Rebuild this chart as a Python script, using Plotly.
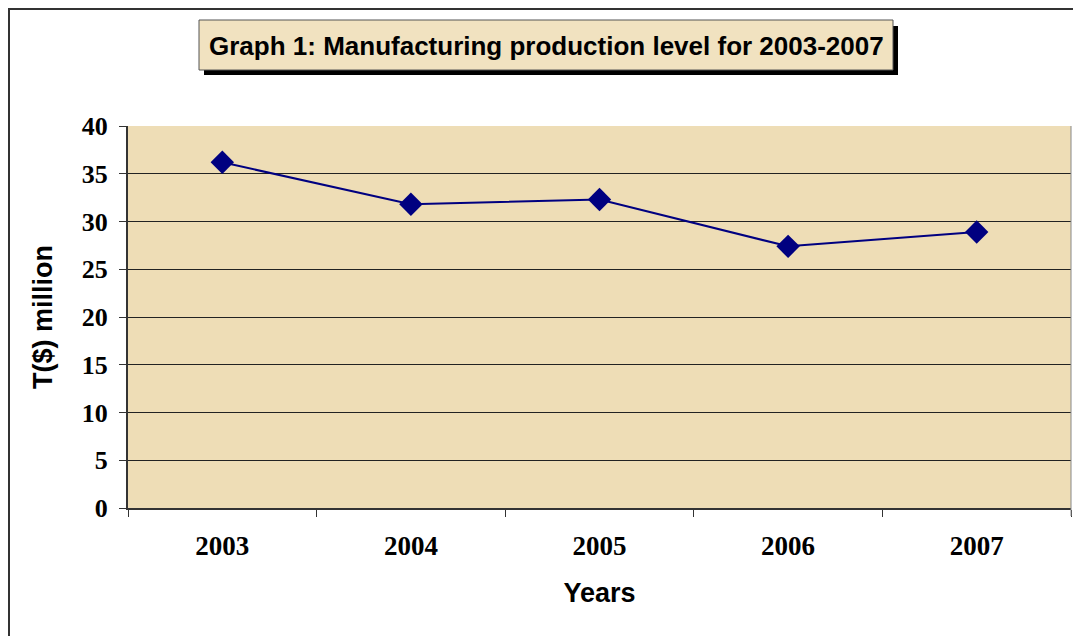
import plotly.graph_objects as go

years = ['2003', '2004', '2005', '2006', '2007']
production = [36.2, 31.8, 32.3, 27.4, 28.9]
y_ticks = [0, 5, 10, 15, 20, 25, 30, 35, 40]

# page has an 8px body margin, so figure coords = screen coords - 8
W, H = 1073, 628
L, R, T, B = 120, 10, 118, 128
pw, ph = W - L - R, H - T - B

def px_x(x):
    return (x - 8 - L) / pw

def px_y(y):
    return (H - B - (y - 8)) / ph

fig = go.Figure()
fig.add_trace(go.Scatter(x=years, y=production, mode='lines+markers',
                         line=dict(color='#000080', width=2),
                         marker=dict(symbol='diamond', size=18, color='#000080'),
                         showlegend=False))

shapes = [
    # outer frame
    dict(type='line', xref='paper', yref='paper', x0=px_x(9), x1=px_x(9), y0=px_y(9), y1=px_y(640),
         line=dict(color='#333333', width=2)),
    dict(type='line', xref='paper', yref='paper', x0=px_x(8), x1=px_x(1085), y0=px_y(9), y1=px_y(9),
         line=dict(color='#333333', width=2)),
    # right edge of plot area
    dict(type='line', xref='paper', yref='paper', x0=1, x1=1, y0=px_y(516), y1=1,
         line=dict(color='#888888', width=1)),
    # title shadow and box
    dict(type='rect', xref='paper', yref='paper', x0=px_x(204), x1=px_x(898), y0=px_y(26), y1=px_y(75),
         fillcolor='black', line=dict(width=0)),
    dict(type='rect', xref='paper', yref='paper', x0=px_x(199), x1=px_x(893), y0=px_y(20), y1=px_y(70),
         fillcolor='#F1E2C0', line=dict(color='#555555', width=1)),
]

fig.update_layout(
    width=W, height=H,
    margin=dict(l=L, r=R, t=T, b=B),
    paper_bgcolor='white',
    plot_bgcolor='#EEDDB6',
    shapes=shapes,
    annotations=[dict(text='Graph 1: Manufacturing production level for 2003-2007',
                      xref='paper', yref='paper', x=px_x(546), y=px_y(46),
                      xanchor='center', yanchor='middle', showarrow=False,
                      font=dict(family='Arial', size=26, color='black', weight='bold'))],
    xaxis=dict(type='category', range=[-0.5, 4.5], tickson='boundaries',
               ticks='outside', ticklen=7, tickcolor='#333333',
               showline=True, linecolor='#333333', linewidth=2, showgrid=False,
               tickfont=dict(family='Liberation Serif', size=27, color='black', weight='bold'),
               ticklabelstandoff=13,
               title=dict(text='Years', standoff=23,
                          font=dict(family='Arial', size=27, color='black', weight='bold'))),
    yaxis=dict(range=[0, 40], tickvals=y_ticks, ticks='outside', ticklen=7, tickcolor='#333333',
               showline=True, linecolor='#333333', linewidth=2,
               showgrid=True, gridcolor='#222222', gridwidth=1, zeroline=False,
               tickfont=dict(family='Liberation Serif', size=26, color='black', weight='bold'),
               ticklabelstandoff=6,
               title=dict(text='T($) million', standoff=21,
                          font=dict(family='Arial', size=27, color='black', weight='bold'))),
)

fig.write_html("out.html")
